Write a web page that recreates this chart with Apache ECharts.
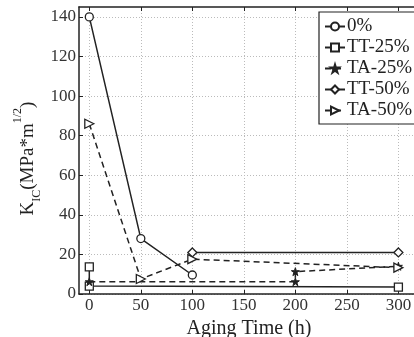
<!DOCTYPE html>
<html>
<head>
<meta charset="utf-8">
<script src="https://cdn.jsdelivr.net/npm/echarts@6/dist/echarts.min.js"></script>
<style>
html, body { margin: 0; padding: 0; background: #fff; }
#chart { width: 414px; height: 337px; }
</style>
</head>
<body>
<div id="chart"></div>
<script>
// values
const xTicks = [0, 50, 100, 150, 200, 250, 300]
const yTicks = [0, 20, 40, 60, 80, 100, 120, 140]

const x0 = [0, 50, 100]
const y0 = [140, 28, 9.6]
const xTT25 = [0, 0, 300]
const yTT25 = [13.7, 4, 3.5]
const xTA25 = [0, 200, 200, 300]
const yTA25 = [6.2, 6.2, 11.3, 14]
const xTT50 = [100, 300]
const yTT50 = [21, 21]
const xTA50 = [0, 50, 100, 300]
const yTA50 = [86, 7.6, 17.6, 13.3]

const pair = (xs, ys) => xs.map((x, i) => [x, ys[i]])

const ink = '#222'
const font = 'Liberation Serif'
// small asterisk-like star
const star = 'path://M0,-10L2.2,-3.1L9.5,-3.1L3.6,1.2L5.9,8.1L0,3.8L-5.9,8.1L-3.6,1.2L-9.5,-3.1L-2.2,-3.1Z'

const chart = echarts.init(document.getElementById('chart'))

function line (name, data, symbol, dashed, extra) {
  return Object.assign({
    name: name,
    type: 'line',
    data: data,
    symbol: symbol,
    symbolSize: 8,
    showSymbol: true,
    animation: false,
    itemStyle: { color: '#fff', borderColor: ink, borderWidth: 1.3 },
    lineStyle: { color: ink, width: 1.5, type: dashed ? [6, 4] : 'solid' }
  }, extra || {})
}

const option = {
  backgroundColor: '#fff',
  animation: false,
  grid: { left: 79, right: -5, top: 7, bottom: 43, outerBoundsMode: 'none', containLabel: false },
  legend: {
    orient: 'vertical',
    left: 319,
    top: 12,
    itemWidth: 20,
    itemHeight: 10,
    itemGap: 2,
    padding: [5, 40, 4, 5],
    borderColor: ink,
    borderWidth: 1.2,
    backgroundColor: '#fff',
    textStyle: { fontFamily: font, fontSize: 19, lineHeight: 19, color: ink, padding: [0, 0, 0, -3] },
    data: ['0%', 'TT-25%', 'TA-25%', 'TT-50%', 'TA-50%']
  },
  xAxis: [{
    type: 'value',
    min: -10,
    max: 320,
    name: 'Aging Time (h)',
    nameLocation: 'middle',
    nameGap: 21,
    nameTextStyle: { fontFamily: font, fontSize: 20, color: ink },
    axisLine: { show: true, onZero: false, lineStyle: { color: ink, width: 1.5 } },
    axisTick: { show: true, inside: true, length: 4, customValues: xTicks, lineStyle: { color: ink } },
    axisLabel: { customValues: xTicks, fontFamily: font, fontSize: 17, color: '#333', margin: 3 },
    splitLine: { show: true, lineStyle: { color: '#bbb', type: [1, 2], width: 1 } }
  }, {
    type: 'value',
    position: 'top',
    min: -10,
    max: 320,
    axisLine: { show: true, onZero: false, lineStyle: { color: ink, width: 1.5 } },
    axisTick: { show: true, inside: true, length: 4, customValues: xTicks, lineStyle: { color: ink } },
    axisLabel: { show: false },
    splitLine: { show: false }
  }],
  yAxis: {
    type: 'value',
    min: 0,
    max: 145,
    name: '{k|K}{sub|IC}{k|(MPa*m}{sup|1/2}{k|)}',
    nameLocation: 'middle',
    nameRotate: 90,
    nameGap: 41,
    nameMoveOverlap: false,
    nameTextStyle: {
      fontFamily: font,
      color: ink,
      padding: [0, 16, 0, 0],
      rich: {
        k: { fontFamily: font, fontSize: 19, color: ink, lineHeight: 20, verticalAlign: 'middle' },
        sub: { fontFamily: font, fontSize: 12, color: ink, lineHeight: 12, verticalAlign: 'bottom', padding: [0, 0, -5, 0] },
        sup: { fontFamily: font, fontSize: 12, color: ink, lineHeight: 12, verticalAlign: 'top', padding: [-6, 0, 0, 0] }
      }
    },
    axisLine: { show: true, onZero: false, lineStyle: { color: ink, width: 1.5 } },
    axisTick: { show: true, inside: true, length: 4, customValues: yTicks, lineStyle: { color: ink } },
    axisLabel: { customValues: yTicks, fontFamily: font, fontSize: 17, color: '#333', margin: 3 },
    splitLine: { show: true, lineStyle: { color: '#bbb', type: [1, 2], width: 1 } }
  },
  series: [
    line('0%', pair(x0, y0), 'circle', false, { symbolSize: 8 }),
    line('TT-25%', pair(xTT25, yTT25), 'rect', false, { symbolSize: 8 }),
    line('TA-25%', pair(xTA25, yTA25), star, true, { symbolSize: 8, itemStyle: { color: ink, borderColor: ink, borderWidth: 1 } }),
    line('TT-50%', pair(xTT50, yTT50), 'diamond', false, { symbolSize: 9 }),
    line('TA-50%', pair(xTA50, yTA50), 'triangle', true, { symbolSize: 9, symbolRotate: -90 })
  ]
}

chart.setOption(option)
window.addEventListener('resize', () => {
  chart.resize()
})
</script>
</body>
</html>
